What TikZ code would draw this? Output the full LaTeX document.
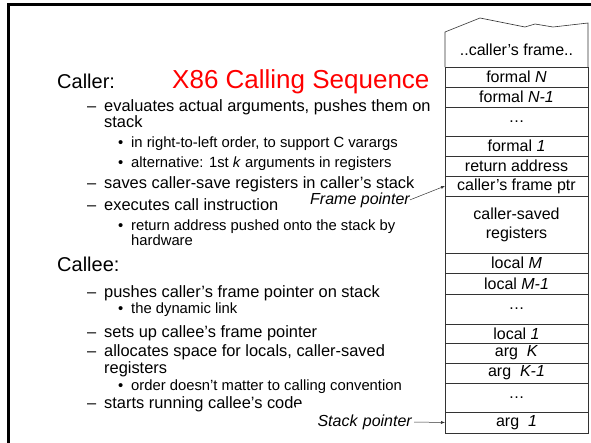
\documentclass[tikz,border=0pt]{standalone}
\usepackage{fontspec}
\setmainfont{Liberation Sans}
\usetikzlibrary{positioning,arrows.meta}

\tikzset{
  hd/.style={anchor=base west,inner sep=0pt,font=\fontsize{20}{24}\selectfont},
  lone/.style={anchor=base west,inner sep=0pt,font=\fontsize{16.4}{19}\selectfont},
  ltwo/.style={anchor=base west,inner sep=0pt,font=\fontsize{14.8}{17}\selectfont},
  cell/.style={draw=black!80,line width=0.9pt,minimum width=143pt,inner sep=0pt,outer sep=0pt,
    align=center,font=\fontsize{16}{19}\selectfont},
  ptr/.style={inner sep=0pt,font=\fontsize{16}{19}\selectfont\itshape},
  ptrarrow/.style={draw=black!80,line width=0.5pt,-{Latex[length=4pt,width=3pt]}}
}

\begin{document}
\begin{tikzpicture}[x=1pt,y=-1pt]
 \clip (0,0) rectangle (591,442);
 \draw[line width=3pt] (8.5,460)--(8.5,4.5)--(600,4.5);

 % caller side
 \node[hd] (callerhd) at (57,88) {Caller:};
 \node[anchor=base west,inner sep=0pt,text=red,font=\fontsize{26}{30}\selectfont] (title) at (172,88) {X86 Calling Sequence};
 \node[lone] (evalA) at (104,111) {evaluates actual arguments, pushes them on};
 \node[lone] (evalB) at (104,127) {stack};
 \node[ltwo] (rtol) at (131,147) {in right-to-left order, to support C varargs};
 \node[ltwo] (altk) at (131,167) {alternative: 1st \textit{k} arguments in registers};
 \node[lone] (saves) at (104,188) {saves caller-save registers in caller’s stack};
 \node[lone] (execs) at (104,210) {executes call instruction};
 \node[ltwo] (retA) at (131,230) {return address pushed onto the stack by};
 \node[ltwo] (retB) at (131,245) {hardware};

 % callee side
 \node[hd] (calleehd) at (57,271) {Callee:};
 \node[lone] (pushfp) at (104,297) {pushes caller’s frame pointer on stack};
 \node[ltwo] (dynlink) at (131,313) {the dynamic link};
 \node[lone] (setup) at (104,337) {sets up callee’s frame pointer};
 \node[lone] (allocA) at (104,356) {allocates space for locals, caller-saved};
 \node[lone] (allocB) at (104,373) {registers};
 \node[ltwo] (ordmat) at (131,390) {order doesn’t matter to calling convention};
 \node[lone] (starts) at (104,408) {starts running callee’s code};

 \foreach \y in {111,188,210,297,337,356,408}
   \node[lone] (dash\y) at (87,\y) {–};
 \foreach \y in {147,167,230,313,390}
   \node[ltwo] (dot\y) at (118,\y) {•};

 % the stack
 \node[cell,draw=none,minimum height=34pt] (top) at (516.5,50) {..caller’s frame..};
 \draw[black!80,line width=0.6pt] (top.south west)--(445,32)--(480,18)--(525,27)--(535,24)--(553,27)--(588,23)--(top.south east);
 \node[cell,minimum height=20pt,below=0pt of top] (formN) {formal \textit{N}};
 \node[cell,minimum height=20pt,below=0pt of formN] (formNm) {formal \textit{N-1}};
 \node[cell,minimum height=29pt,below=0pt of formNm] (dotsA) {…};
 \node[cell,minimum height=20pt,below=0pt of dotsA] (form1) {formal \textit{1}};
 \node[cell,minimum height=20pt,below=0pt of form1] (retaddr) {return address};
 \node[cell,minimum height=20pt,below=0pt of retaddr] (cfp) {caller’s frame ptr};
 \node[cell,minimum height=57pt,below=0pt of cfp] (saved) {caller-saved\\registers};
 \node[cell,minimum height=20pt,below=0pt of saved] (locM) {local \textit{M}};
 \node[cell,minimum height=21pt,below=0pt of locM] (locMm) {local \textit{M-1}};
 \node[cell,minimum height=30pt,below=0pt of locMm] (dotsB) {…};
 \node[cell,minimum height=19pt,below=0pt of dotsB] (loc1) {local \textit{1}};
 \node[cell,minimum height=20pt,below=0pt of loc1] (argK) {arg\ \ \textit{K}};
 \node[cell,minimum height=20pt,below=0pt of argK] (argKm) {arg\ \ \textit{K-1}};
 \node[cell,minimum height=29pt,below=0pt of argKm] (dotsC) {…};
 \node[cell,minimum height=21pt,below=0pt of dotsC] (arg1) {arg\ \ \textit{1}};

 % pointers
 \node[ptr,anchor=base east] (fp) at (410,204) {Frame pointer};
 \draw[ptrarrow] (fp.east)--(cfp.west);
 \node[ptr,anchor=east,fill=white,inner sep=2pt,text width=114pt,align=right,minimum height=36pt] (sp) at (414,422) {Stack pointer};
 \draw[ptrarrow] (sp.east)--(arg1.west);
\end{tikzpicture}
\end{document}
